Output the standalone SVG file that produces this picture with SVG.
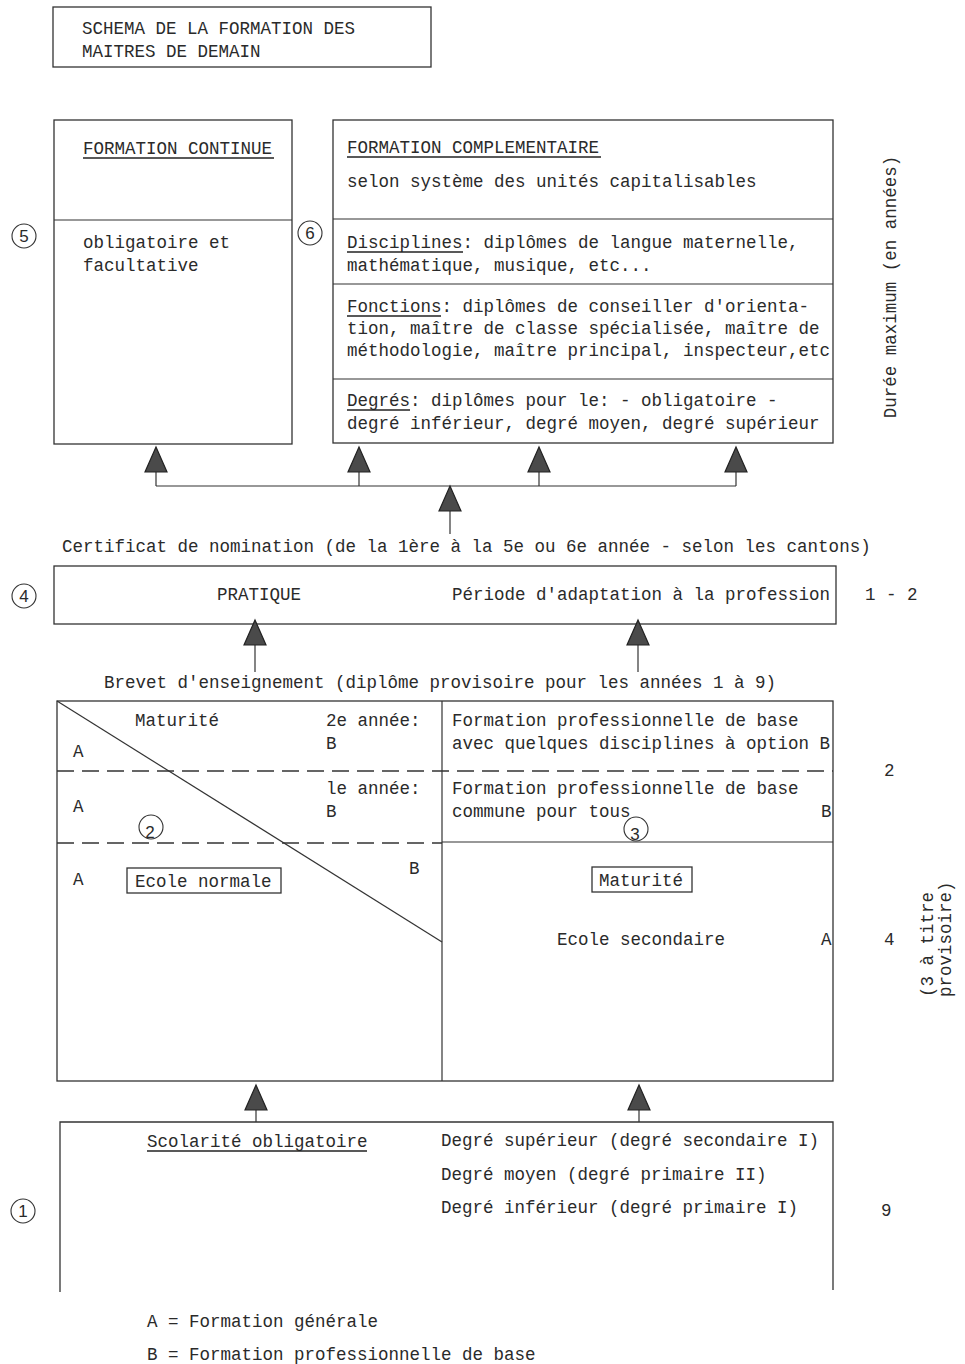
<svg xmlns="http://www.w3.org/2000/svg" width="965" height="1364" viewBox="0 0 965 1364">
<defs>
<style>
text{font-family:"Liberation Mono","DejaVu Sans Mono",monospace;font-size:17.5px;fill:#2a2a2a}
.box{fill:none;stroke:#333;stroke-width:1.3}
.ln{fill:none;stroke:#333;stroke-width:1.2}
.dash{fill:none;stroke:#333;stroke-width:1.4;stroke-dasharray:17 8}
.ul{stroke:#222;stroke-width:1.6}
.tri{fill:#4a4a4a;stroke:#222;stroke-width:1.2}
.circ{fill:none;stroke:#333;stroke-width:1.1}
.num{font-family:"Liberation Sans",Arial,sans-serif;font-size:17px;text-anchor:middle}
</style>
<polygon id="tri" points="0,0 11,25 -11,25"/>
</defs>
<rect width="965" height="1364" fill="#fff"/>

<g id="title">
<rect class="box" x="53" y="7" width="378" height="60"/>
<text x="82" y="34">SCHEMA DE LA FORMATION DES</text>
<text x="82" y="57">MAITRES DE DEMAIN</text>
</g>

<g id="formation-continue">
<rect class="box" x="54" y="120" width="238" height="324"/>
<line class="ln" x1="54" y1="220" x2="292" y2="220"/>
<text x="83" y="154">FORMATION CONTINUE</text>
<line class="ul" x1="83" y1="158" x2="274" y2="158"/>
<text x="83" y="248">obligatoire et</text>
<text x="83" y="271">facultative</text>
</g>

<g id="formation-complementaire">
<rect class="box" x="333" y="120" width="500" height="323"/>
<line class="ln" x1="333" y1="219" x2="833" y2="219"/>
<line class="ln" x1="333" y1="284" x2="833" y2="284"/>
<line class="ln" x1="333" y1="379" x2="833" y2="379"/>
<text x="347" y="153">FORMATION COMPLEMENTAIRE</text>
<line class="ul" x1="347" y1="157" x2="601" y2="157"/>
<text x="347" y="187">selon système des unités capitalisables</text>
<text x="347" y="248">Disciplines: diplômes de langue maternelle,</text>
<line class="ul" x1="347" y1="252" x2="463" y2="252"/>
<text x="347" y="271">mathématique, musique, etc...</text>
<text x="347" y="312">Fonctions: diplômes de conseiller d'orienta-</text>
<line class="ul" x1="347" y1="316" x2="441" y2="316"/>
<text x="347" y="334">tion, maître de classe spécialisée, maître de</text>
<text x="347" y="356">méthodologie, maître principal, inspecteur,etc</text>
<text x="347" y="406">Degrés: diplômes pour le: - obligatoire -</text>
<line class="ul" x1="347" y1="410" x2="410" y2="410"/>
<text x="347" y="429">degré inférieur, degré moyen, degré supérieur</text>
</g>

<g id="circle-5"><circle class="circ" cx="24" cy="236" r="12"/><text class="num" x="24" y="242">5</text></g>
<g id="circle-6"><circle class="circ" cx="310" cy="233" r="12"/><text class="num" x="310" y="239">6</text></g>

<g id="duree-label">
<text x="896" y="287" text-anchor="middle" transform="rotate(-90 896 287)">Durée maximum (en années)</text>
</g>

<g id="certificat">
<text x="62" y="552">Certificat de nomination (de la 1ère à la 5e ou 6e année - selon les cantons)</text>
</g>

<g id="pratique">
<rect class="box" x="54" y="566" width="782" height="58"/>
<text x="217" y="600">PRATIQUE</text>
<text x="452" y="600">Période d'adaptation à la profession</text>
</g>
<g id="circle-4"><circle class="circ" cx="24" cy="596" r="12"/><text class="num" x="24" y="602">4</text></g>
<g id="duree-4"><text x="865" y="600">1 - 2</text></g>

<g id="brevet">
<text x="104" y="688">Brevet d'enseignement (diplôme provisoire pour les années 1 à 9)</text>
</g>

<g id="formation-base">
<rect class="box" x="57" y="701" width="776" height="380"/>
<line class="ln" x1="442" y1="701" x2="442" y2="1081"/>
<line class="dash" x1="57" y1="771" x2="833" y2="771"/>
<line class="dash" x1="57" y1="843" x2="442" y2="843"/>
<line class="ln" x1="442" y1="842" x2="833" y2="842"/>
<line class="ln" x1="57" y1="701" x2="442" y2="942"/>
<text x="135" y="726">Maturité</text>
<text x="326" y="726">2e année:</text>
<text x="326" y="749">B</text>
<text x="73" y="757">A</text>
<text x="73" y="812">A</text>
<text x="326" y="794">le année:</text>
<text x="326" y="817">B</text>
<text x="73" y="885">A</text>
<text x="409" y="874">B</text>
<text x="452" y="726">Formation professionnelle de base</text>
<text x="452" y="749">avec quelques disciplines à option B</text>
<text x="452" y="794">Formation professionnelle de base</text>
<text x="452" y="817">commune pour tous</text>
<text x="821" y="817">B</text>
<text x="557" y="945">Ecole secondaire</text>
<text x="821" y="945">A</text>
</g>

<g id="ecole-normale">
<rect class="box" x="127" y="868" width="154" height="25"/>
<text x="135" y="887">Ecole normale</text>
</g>

<g id="maturite-sec">
<rect class="box" x="592" y="867" width="100" height="25"/>
<text x="599" y="886">Maturité</text>
</g>

<g id="circle-2"><circle class="circ" cx="151" cy="827" r="12"/><text class="num" x="150" y="838">2</text></g>
<g id="circle-3"><circle class="circ" cx="636" cy="829" r="12"/><text class="num" x="635" y="840">3</text></g>

<g id="duree-mid">
<text x="884" y="776">2</text>
<text x="884" y="945">4</text>
<text x="933" y="997" transform="rotate(-90 933 997)">(3 à titre</text>
<text x="951" y="997" transform="rotate(-90 951 997)">provisoire)</text>
</g>

<g id="scolarite">
<path class="box" d="M60,1292 V1122 H833 V1290"/>
<text x="147" y="1147">Scolarité obligatoire</text>
<line class="ul" x1="147" y1="1151" x2="367" y2="1151"/>
<text x="441" y="1146">Degré supérieur (degré secondaire I)</text>
<text x="441" y="1180">Degré moyen (degré primaire II)</text>
<text x="441" y="1213">Degré inférieur (degré primaire I)</text>
</g>
<g id="circle-1"><circle class="circ" cx="23" cy="1211" r="12"/><text class="num" x="23" y="1217">1</text></g>
<g id="duree-9"><text x="881" y="1216">9</text></g>

<g id="legend">
<text x="147" y="1327">A = Formation générale</text>
<text x="147" y="1360">B = Formation professionnelle de base</text>
</g>

<g id="connectors">
<line class="ln" x1="156" y1="472" x2="156" y2="486"/>
<line class="ln" x1="359" y1="472" x2="359" y2="486"/>
<line class="ln" x1="539" y1="472" x2="539" y2="486"/>
<line class="ln" x1="736" y1="472" x2="736" y2="486"/>
<line class="ln" x1="156" y1="486" x2="736" y2="486"/>
<line class="ln" x1="450" y1="510" x2="450" y2="534"/>
<line class="ln" x1="255" y1="645" x2="255" y2="672"/>
<line class="ln" x1="638" y1="645" x2="638" y2="672"/>
<line class="ln" x1="256" y1="1108" x2="256" y2="1122"/>
<line class="ln" x1="639" y1="1108" x2="639" y2="1122"/>
<use href="#tri" class="tri" x="156" y="447"/>
<use href="#tri" class="tri" x="359" y="447"/>
<use href="#tri" class="tri" x="539" y="447"/>
<use href="#tri" class="tri" x="736" y="447"/>
<use href="#tri" class="tri" x="450" y="486"/>
<use href="#tri" class="tri" x="255" y="620"/>
<use href="#tri" class="tri" x="638" y="620"/>
<use href="#tri" class="tri" x="256" y="1085"/>
<use href="#tri" class="tri" x="639" y="1085"/>
</g>
</svg>
